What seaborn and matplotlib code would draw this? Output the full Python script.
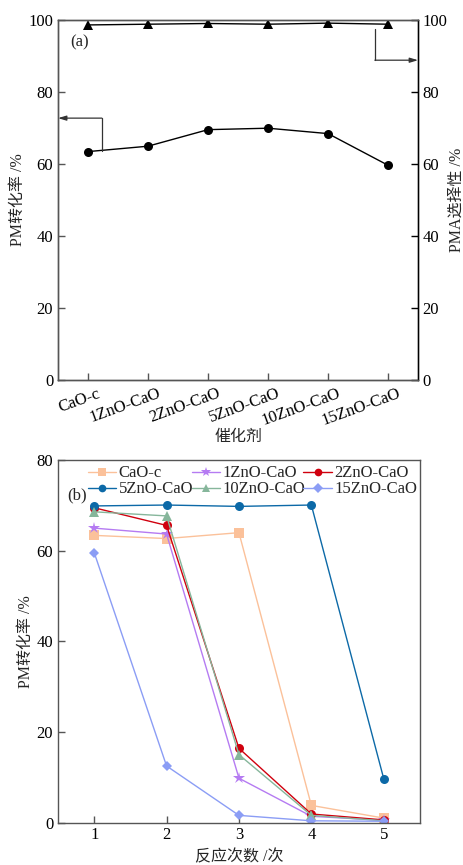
import matplotlib
matplotlib.use("Agg")
import matplotlib.pyplot as plt
import matplotlib.transforms as mtransforms
import numpy as np
import pandas as pd
import seaborn as sns

# catalysts and panel (a) results
catalysts = ["CaO-c", "1ZnO-CaO", "2ZnO-CaO", "5ZnO-CaO", "10ZnO-CaO", "15ZnO-CaO"]
pm_conversion = [63.4, 64.9, 69.5, 69.9, 68.4, 59.6]
pma_selectivity = [98.6, 98.8, 99.0, 98.8, 99.1, 98.8]

# panel (b): conversion over repeated reaction cycles
cycles = [1, 2, 3, 4, 5]
cycle_conv = {
    "CaO-c":     [63.4, 62.7, 64.0, 3.8, 1.0],
    "1ZnO-CaO":  [65.0, 63.7, 9.8, 1.4, 0.5],
    "2ZnO-CaO":  [69.5, 65.6, 16.4, 1.9, 0.6],
    "5ZnO-CaO":  [69.9, 70.1, 69.8, 70.1, 9.7],
    "10ZnO-CaO": [68.6, 67.7, 15.0, 1.6, 0.4],
    "15ZnO-CaO": [59.6, 12.5, 1.6, 0.4, 0.3],
}
colors = {
    "CaO-c": "#FBC19A",
    "1ZnO-CaO": "#B57BF2",
    "2ZnO-CaO": "#D0000E",
    "5ZnO-CaO": "#0C69A7",
    "10ZnO-CaO": "#86B69B",
    "15ZnO-CaO": "#8B9DF5",
}
markers = {
    "CaO-c": "s",
    "1ZnO-CaO": "*",
    "2ZnO-CaO": "o",
    "5ZnO-CaO": "o",
    "10ZnO-CaO": "^",
    "15ZnO-CaO": "D",
}

sns.set_theme(style="ticks")
plt.rcParams["font.family"] = ["Liberation Serif", "Noto Sans CJK SC"]
plt.rcParams["xtick.direction"] = "in"
plt.rcParams["ytick.direction"] = "in"
plt.rcParams["axes.edgecolor"] = "#555555"
plt.rcParams["axes.linewidth"] = 1.0

FS = 12
LFS = 11.5
fig = plt.figure(figsize=(4.64, 8.65), dpi=100)
ax1 = fig.add_axes([0.125, 0.561, 0.776, 0.416])
ax2 = fig.add_axes([0.125, 0.049, 0.780, 0.419])

# ---- panel (a)
dfa = pd.DataFrame({"cat": catalysts, "conv": pm_conversion, "sel": pma_selectivity})
sns.lineplot(data=dfa, x="cat", y="conv", ax=ax1, color="black", marker="o",
             markersize=6.5, markeredgewidth=0, linewidth=1, sort=False)
ax1.set_xlim(-0.5, 5.5)
ax1.set_ylim(0, 100)
ax1.set_yticks([0, 20, 40, 60, 80, 100])
ax1.set_xticks(range(len(catalysts)))
ax1.set_xticklabels(catalysts, rotation=20, ha="right", rotation_mode="anchor")
ax1.tick_params(axis="both", labelsize=FS, length=5, width=1, colors="#555555",
                labelcolor="black")
ax1.set_xlabel("催化剂", fontsize=LFS, labelpad=0)
ax1.set_ylabel("PM转化率 /%", fontsize=LFS, labelpad=2)

ax1b = ax1.twinx()
sns.lineplot(data=dfa, x="cat", y="sel", ax=ax1b, color="black", marker="^",
             markersize=6.5, markeredgewidth=0, linewidth=1, sort=False)
ax1b.set_ylim(0, 100)
ax1b.set_yticks([0, 20, 40, 60, 80, 100])
ax1b.tick_params(axis="y", labelsize=FS, length=5, width=1, direction="in",
                 colors="black", pad=3)
ax1b.set_ylabel("PMA选择性 /%", fontsize=LFS, labelpad=1)
ax1b.spines["right"].set_color("black")
ax1b.set_xlabel("")

# nudge the slanted category labels so their ends sit just right of each tick
offset = mtransforms.ScaledTranslation(9 / 100, -1 / 100, fig.dpi_scale_trans)
for lbl in ax1.get_xticklabels():
    lbl.set_transform(lbl.get_transform() + offset)

ax1.text(0.035, 0.925, "(a)", transform=ax1.transAxes, fontsize=FS)

# axis-pointer arrows
ax1.plot([0.23, 0.23], [63.7, 72.7], color="#333333", lw=0.9)
ax1.annotate("", xy=(-0.5, 72.7), xytext=(0.23, 72.7),
             arrowprops=dict(arrowstyle="-|>,head_length=0.4,head_width=0.12",
                             color="#333333", lw=0.9, shrinkA=0, shrinkB=0))
ax1b.plot([4.78, 4.78], [97.4, 88.8], color="#333333", lw=0.9)
ax1b.annotate("", xy=(5.5, 88.8), xytext=(4.78, 88.8),
              arrowprops=dict(arrowstyle="-|>,head_length=0.4,head_width=0.12",
                              color="#333333", lw=0.9, shrinkA=0, shrinkB=0))

# ---- panel (b)
rows = []
for name, vals in cycle_conv.items():
    for c, v in zip(cycles, vals):
        rows.append({"cycle": c, "conv": v, "cat": name})
dfb = pd.DataFrame(rows)

for name in catalysts:
    sub = dfb[dfb["cat"] == name]
    ms = 9 if markers[name] == "*" else (5.5 if markers[name] == "D" else 6.5)
    sns.lineplot(data=sub, x="cycle", y="conv", ax=ax2, color=colors[name],
                 marker=markers[name], markersize=ms, markeredgewidth=0,
                 linewidth=1, label=name)

ax2.set_xlim(0.5, 5.5)
ax2.set_ylim(0, 80)
ax2.set_xticks(cycles)
ax2.set_yticks([0, 20, 40, 60, 80])
ax2.tick_params(axis="both", labelsize=FS, length=5, width=1, colors="#555555",
                labelcolor="black")
ax2.set_xlabel("反应次数 /次", fontsize=LFS, labelpad=4)
ax2.set_ylabel("PM转化率 /%", fontsize=LFS, labelpad=2)

# legend filled row by row: reorder for matplotlib's column-major layout
handles, labels = ax2.get_legend_handles_labels()
order = [0, 3, 1, 4, 2, 5]
leg = ax2.legend([handles[i] for i in order], [labels[i] for i in order],
                 loc="upper left", bbox_to_anchor=(0.078, 0.99), ncol=3,
                 frameon=False, fontsize=FS, handlelength=1.7,
                 handletextpad=0.15, columnspacing=-0.1, labelspacing=0.0,
                 borderaxespad=0, borderpad=0.1, markerscale=0.85)
ax2.text(0.025, 0.893, "(b)", transform=ax2.transAxes, fontsize=FS)

fig.savefig("out.png", dpi=100)
